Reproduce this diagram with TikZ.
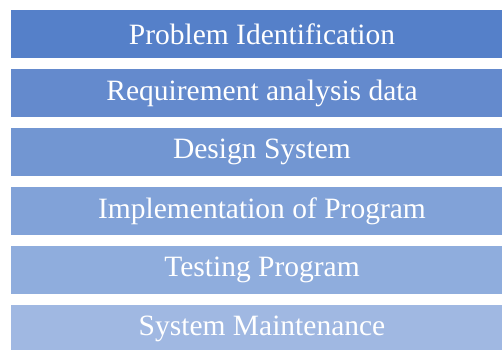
\documentclass[tikz,border=0pt]{standalone}
\usepackage{fontspec}
\setmainfont{Liberation Serif}
\usetikzlibrary{positioning}
\definecolor{stageA}{RGB}{85,128,201}
\definecolor{stageB}{RGB}{100,138,205}
\definecolor{stageC}{RGB}{114,150,210}
\definecolor{stageD}{RGB}{129,162,216}
\definecolor{stageE}{RGB}{143,173,221}
\definecolor{stageF}{RGB}{160,184,226}
\tikzset{stagebox/.style={minimum height=48pt, minimum width=502pt, inner sep=0pt, outer sep=0pt, text=white, font=\fontsize{29.5}{34}\selectfont}}

\begin{document}
\begin{tikzpicture}[x=1pt,y=1pt]
\useasboundingbox (0,0) rectangle (502,-349);
\node (S1) [stagebox, fill=stageA, anchor=north west] at (11,-10) {Problem Identification};
\node (S2) [stagebox, fill=stageB, below=11pt of S1] {Requirement analysis data};
\node (S3) [stagebox, fill=stageC, below=11pt of S2] {Design System};
\node (S4) [stagebox, fill=stageD, below=11pt of S3] {Implementation of Program};
\node (S5) [stagebox, fill=stageE, below=11pt of S4] {Testing Program};
\node (S6) [stagebox, fill=stageF, below=11pt of S5] {System Maintenance};
\end{tikzpicture}
\end{document}
